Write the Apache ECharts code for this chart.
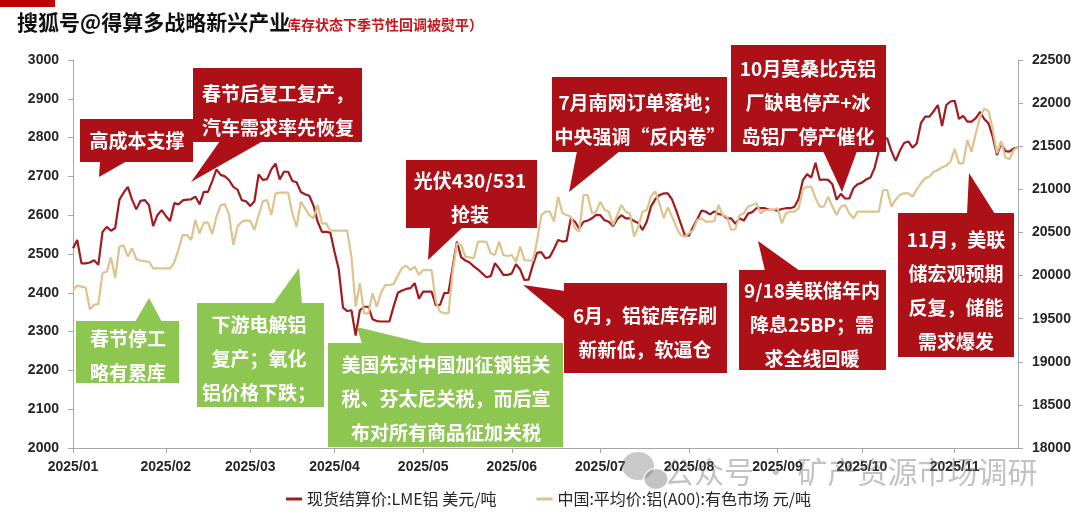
<!DOCTYPE html>
<html>
<head>
<meta charset="utf-8">
<script src="https://cdn.jsdelivr.net/npm/echarts@6/dist/echarts.min.js"></script>
<style>
  html, body { margin: 0; padding: 0; background: #ffffff; }
  #chart { width: 1080px; height: 521px; }
</style>
</head>
<body>
<div id="chart"></div>
<script>
// Month tick labels and the number of trading-day points in each month
const monthLabels = ['2025/01', '2025/02', '2025/03', '2025/04', '2025/05', '2025/06',
                     '2025/07', '2025/08', '2025/09', '2025/10', '2025/11'];
const monthPoints = [22, 20, 20, 21, 21, 21, 21, 21, 20, 22, 16];

const seriesNames = ['现货结算价:LME铝 美元/吨', '中国:平均价:铝(A00):有色市场 元/吨'];

// LME aluminium spot settlement, USD/t (left axis)
const lme = [
  2515, 2536, 2476, 2476, 2478, 2484, 2472, 2557, 2570, 2560, 2567, 2640, 2658, 2673, 2640, 2615, 2637, 2639, 2626, 2572, 2600, 2613,
  2598, 2585, 2631, 2628, 2638, 2640, 2641, 2648, 2628, 2660, 2660, 2688, 2718, 2704, 2700, 2690, 2673, 2666, 2639, 2636,
  2624, 2636, 2705, 2691, 2693, 2718, 2733, 2692, 2712, 2712, 2688, 2685, 2660, 2654, 2650, 2625, 2583, 2557, 2557, 2555,
  2505, 2460, 2362, 2353, 2355, 2290, 2355, 2364, 2364, 2332, 2327, 2326, 2326, 2326, 2365, 2400, 2406, 2410, 2412, 2425, 2385,
  2403, 2403, 2403, 2368, 2369, 2399, 2400, 2467, 2532, 2492, 2483, 2478, 2468, 2460, 2450, 2440, 2443, 2476, 2463, 2446, 2446,
  2450, 2474, 2460, 2433, 2434, 2472, 2503, 2505, 2489, 2492, 2513, 2536, 2532, 2534, 2592, 2583, 2565, 2583, 2586, 2592, 2601,
  2600, 2587, 2583, 2572, 2590, 2600, 2592, 2592, 2585, 2580, 2562, 2583, 2622, 2641, 2652, 2656, 2656, 2640, 2612, 2580, 2549,
  2547, 2570, 2590, 2612, 2609, 2602, 2610, 2603, 2601, 2592, 2592, 2578, 2592, 2586, 2604, 2608, 2618, 2618, 2618, 2614, 2614,
  2612, 2616, 2618, 2618, 2622, 2642, 2690, 2706, 2697, 2735, 2691, 2692, 2691, 2680, 2640, 2655, 2643, 2643, 2670, 2680,
  2684, 2692, 2697, 2722, 2765, 2798, 2798, 2765, 2740, 2766, 2786, 2790, 2774, 2785, 2838, 2854, 2854, 2868, 2884, 2830, 2884, 2893,
  2895, 2848, 2856, 2841, 2841, 2850, 2866, 2848, 2837, 2803, 2755, 2785, 2765, 2764, 2772, 2775
];

// China A00 aluminium average price, CNY/t (right axis)
const a00 = [
  19830, 19885, 19872, 19862, 19610, 19660, 19670, 20030, 20045, 20212, 19970, 20335, 20350, 20220, 20316, 20190, 20175, 20168, 20160, 20084, 20084, 20084,
  20084, 20084, 20150, 20300, 20470, 20470, 20412, 20644, 20490, 20613, 20613, 20480, 20683, 20815, 20828, 20700, 20355, 20570, 20625, 20640,
  20635, 20528, 20700, 20860, 20876, 20702, 20950, 20961, 20961, 20961, 20720, 20566, 20857, 20780, 20700, 20664, 20818, 20605, 20605, 20520,
  20520, 20520, 20520, 20520, 20219, 19639, 19910, 19562, 19562, 19794, 19639, 19800, 19890, 19890, 19900, 20000, 20090, 20115, 20064, 20103, 20010,
  20064, 20064, 20064, 19697, 19581, 19565, 19562, 20050, 20374, 20355, 20219, 20212, 20200, 20393, 20393, 20390, 20258, 20238, 20393, 20238, 20227,
  20238, 20161, 20335, 20180, 20175, 20172, 20400, 20700, 20741, 20741, 20625, 20915, 20722, 20702, 20683, 20547, 20509, 20934, 20934, 20722, 20741,
  20857, 20760, 20741, 20586, 20702, 20818, 20741, 20722, 20451, 20566, 20741, 20760, 20915, 20976, 20838, 20664, 20790, 20683, 20566, 20470, 20451,
  20489, 20528, 20644, 20664, 20625, 20625, 20630, 20818, 20702, 20683, 20528, 20540, 20700, 20722, 20799, 20818, 20838, 20722, 20760, 20760, 20760,
  20780, 20606, 20722, 20741, 20741, 20780, 21000, 21030, 21030, 20900, 20799, 20799, 20915, 20800, 20702, 20799, 20818, 20722, 20664, 20741,
  20741, 20741, 20741, 20741, 20741, 20992, 20992, 20799, 20880, 20934, 20954, 20954, 20915, 21000, 21070, 21130, 21147, 21205, 21224, 21255, 21275, 21320,
  21470, 21301, 21301, 21572, 21437, 21650, 21843, 21935, 21910, 21700, 21418, 21560, 21370, 21350, 21456, 21495
];

// One category per trading day; the first day of each month carries the month label
const categories = [];
const monthStart = new Set();
monthLabels.forEach(function (label, m) {
  monthStart.add(categories.length);
  for (let k = 0; k < monthPoints[m]; k++) {
    categories.push(k === 0 ? label : label + '#' + (k + 1));
  }
});

// Annotation boxes with their pointers
const RED = '#AD1117';
const GREEN = '#8DC650';
const notes = [
  { text: '高成本支撑', fill: RED, box: [80, 119, 113, 43], tip: [[100, 161], [127, 161], [99, 177]], at: [137, 141] },
  { text: '春节后复工复产，\n汽车需求率先恢复', fill: RED, box: [193, 68, 169, 74], tip: [[220, 141], [263, 141], [191, 182]], at: [278, 111] },
  { text: '春节停工\n略有累库', fill: GREEN, box: [76, 321, 103, 62], tip: [[135, 322], [162, 322], [149, 298]], at: [128, 356] },
  { text: '下游电解铝\n复产；氧化\n铝价格下跌；', fill: GREEN, box: [197, 303, 127, 104], tip: [[273, 304], [302, 304], [299, 268]], at: [259, 359] },
  { text: '美国先对中国加征钢铝关\n税、芬太尼关税，而后宣\n布对所有商品征加关税', fill: GREEN, box: [328, 343, 235, 104], tip: [[362, 344], [427, 344], [357, 327]], at: [446, 399] },
  { text: '光伏430/531\n抢装', fill: RED, box: [406, 160, 131, 68], tip: [[430, 227], [463, 227], [428, 260]], at: [470, 198] },
  { text: '6月，铝锭库存刷\n新新低，软逼仓', fill: RED, box: [564, 283, 163, 90], tip: [[565, 291], [565, 320], [523, 285]], at: [645, 333] },
  { text: '7月南网订单落地；\n中央强调“反内卷”', fill: RED, box: [552, 77, 175, 75], tip: [[577, 151], [620, 151], [569, 192]], at: [640, 120] },
  { text: '10月莫桑比克铝\n厂缺电停产+冰\n岛铝厂停产催化', fill: RED, box: [731, 45, 155, 107], tip: [[823, 151], [857, 151], [842, 192]], at: [808, 103] },
  { text: '9/18美联储年内\n降息25BP；需\n求全线回暖', fill: RED, box: [739, 270, 147, 100], tip: [[765, 271], [800, 271], [758, 241]], at: [812, 325] },
  { text: '11月，美联\n储宏观预期\n反复，储能\n需求爆发', fill: RED, box: [898, 213, 116, 144], tip: [[967, 214], [995, 214], [969, 173]], at: [956, 291] }
];

const CJK = '"Noto Sans CJK SC", "Noto Sans", sans-serif';

function noteElements(n) {
  return [
    { type: 'polygon', z: 100, shape: { points: n.tip }, style: { fill: n.fill } },
    { type: 'rect', z: 100, shape: { x: n.box[0], y: n.box[1], width: n.box[2], height: n.box[3] }, style: { fill: n.fill } },
    { type: 'text', z: 101, x: n.at[0], y: n.at[1],
      style: { text: n.text, fill: '#ffffff', font: 'bold 19px ' + CJK,
               align: 'center', verticalAlign: 'middle', textAlign: 'center', textVerticalAlign: 'middle', lineHeight: 34 } }
  ];
}

const graphics = [];
notes.forEach(function (n) { noteElements(n).forEach(function (e) { graphics.push(e); }); });

// Header strip, heading and account marks
graphics.push(
  { type: 'rect', z: 90, shape: { x: 0, y: 0, width: 55, height: 7 }, style: { fill: '#C00000' } },
  { type: 'text', z: 90, x: 287, y: 25,
    style: { text: '库存状态下季节性回调被熨平）', fill: '#C8161D', font: 'bold 14px ' + CJK,
             verticalAlign: 'middle', textVerticalAlign: 'middle' } },
  { type: 'text', z: 120, x: 17, y: 22,
    style: { text: '搜狐号@得算多战略新兴产业', fill: '#111111', stroke: '#ffffff', lineWidth: 3,
             font: 'bold 21px ' + CJK, verticalAlign: 'middle', textVerticalAlign: 'middle' } },
  { type: 'ellipse', z: 110, shape: { cx: 638, cy: 466, rx: 16, ry: 14 }, style: { fill: 'rgba(120,120,120,0.4)' } },
  { type: 'ellipse', z: 111, shape: { cx: 656, cy: 479, rx: 12, ry: 10.5 }, style: { fill: 'rgba(120,120,120,0.45)', stroke: 'rgba(255,255,255,0.7)', lineWidth: 1.5 } },
  { type: 'text', z: 110, x: 664, y: 472,
    style: { text: '公众号 · 矿产资源市场调研', fill: 'rgba(110,110,110,0.42)', font: '30px ' + CJK,
             verticalAlign: 'middle', textVerticalAlign: 'middle' } }
);

const axisGrey = '#A6A6A6';
const labelStyle = { color: '#262626', fontWeight: 'bold', fontSize: 14, fontFamily: '"Liberation Sans", Arial, sans-serif' };
const plainNumber = function (v) { return String(v); };

const chart = echarts.init(document.getElementById('chart'), null, { renderer: 'canvas' });
chart.setOption({
  animation: false,
  backgroundColor: '#ffffff',
  grid: { left: 73, right: 62, top: 60, bottom: 73, containLabel: false, outerBoundsMode: 'none' },
  legend: {
    data: seriesNames,
    left: 281, top: 486,
    icon: 'rect', itemWidth: 16, itemHeight: 3, itemGap: 40,
    textStyle: { fontSize: 16, color: '#262626', fontFamily: CJK }
  },
  xAxis: {
    type: 'category',
    data: categories,
    boundaryGap: false,
    axisLine: { lineStyle: { color: axisGrey, width: 1 } },
    axisTick: { show: true, length: 5, interval: function (i) { return monthStart.has(i); }, lineStyle: { color: axisGrey } },
    axisLabel: Object.assign({ interval: function (i) { return monthStart.has(i); }, margin: 12 }, labelStyle),
    splitLine: { show: false }
  },
  yAxis: [
    {
      type: 'value', position: 'left', min: 2000, max: 3000, interval: 100,
      axisLine: { show: true, lineStyle: { color: axisGrey } },
      axisTick: { show: true, length: 5, lineStyle: { color: axisGrey } },
      axisLabel: Object.assign({ margin: 14, formatter: plainNumber }, labelStyle),
      splitLine: { show: false }
    },
    {
      type: 'value', position: 'right', min: 18000, max: 22500, interval: 500,
      axisLine: { show: true, lineStyle: { color: axisGrey } },
      axisTick: { show: true, length: 5, lineStyle: { color: axisGrey } },
      axisLabel: Object.assign({ margin: 14, formatter: plainNumber }, labelStyle),
      splitLine: { show: false }
    }
  ],
  series: [
    {
      name: seriesNames[0], type: 'line', yAxisIndex: 0, data: lme,
      showSymbol: false, symbol: 'none', z: 3,
      lineStyle: { color: '#A01B20', width: 2.2 }, itemStyle: { color: '#A01B20' }
    },
    {
      name: seriesNames[1], type: 'line', yAxisIndex: 1, data: a00,
      showSymbol: false, symbol: 'none', z: 4,
      lineStyle: { color: '#DCC38F', width: 2.2 }, itemStyle: { color: '#DCC38F' }
    }
  ],
  graphic: { elements: graphics }
});
</script>
</body>
</html>
